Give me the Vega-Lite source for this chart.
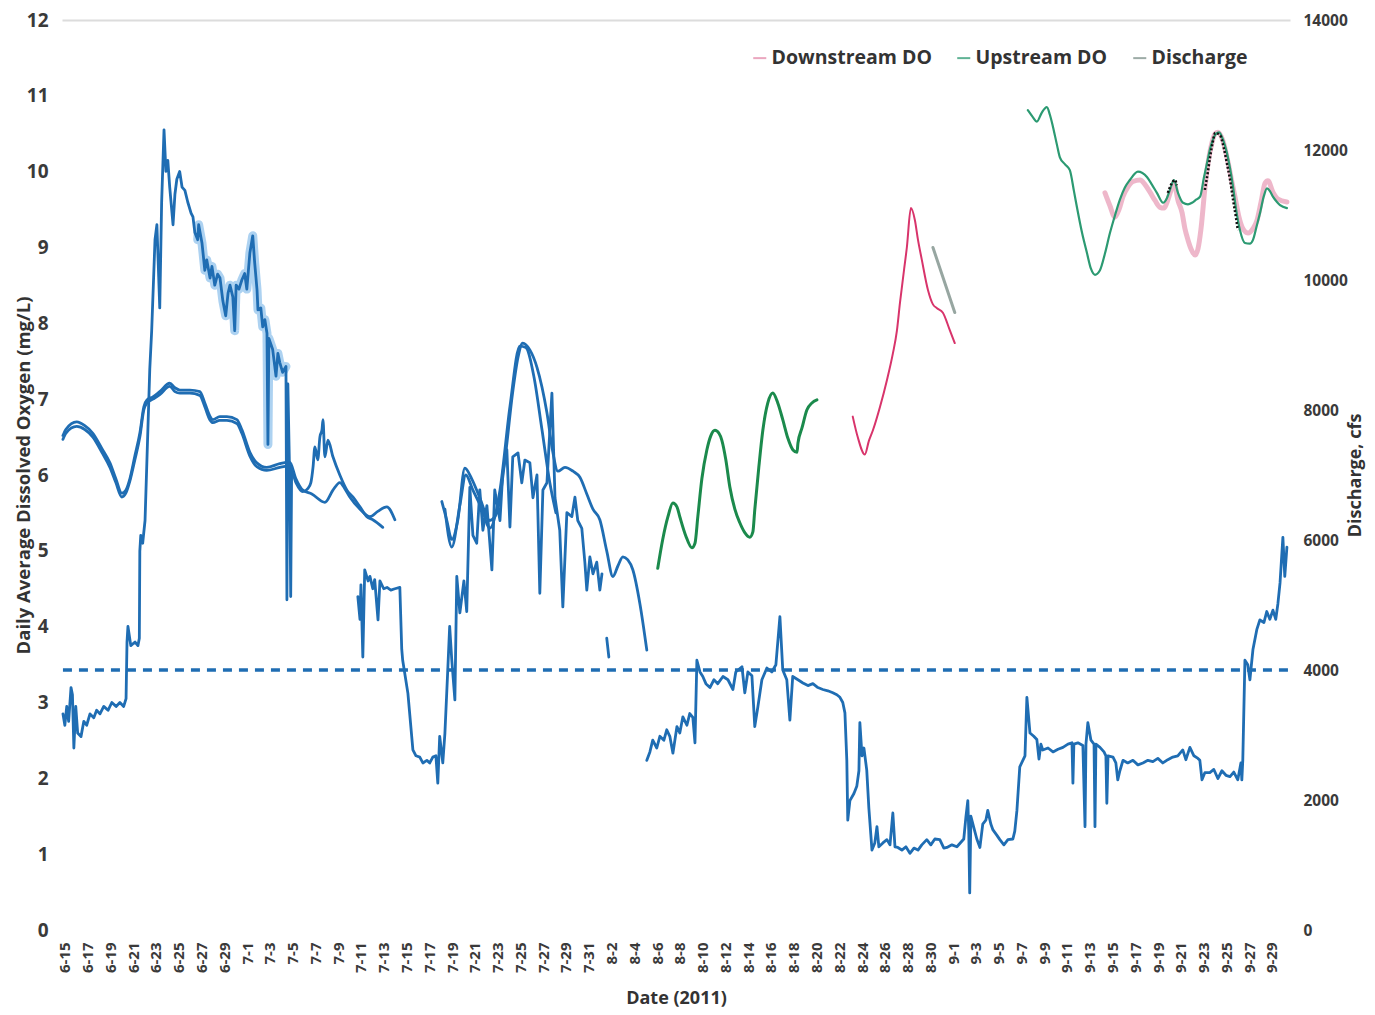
{
  "$schema": "https://vega.github.io/schema/vega-lite/v6.json",
  "width": 1228,
  "height": 910,
  "autosize": "none",
  "padding": {"left": 62, "top": 20, "right": 85, "bottom": 85},
  "background": "white",
  "config": {
    "view": {"stroke": null},
    "font": "Open Sans",
    "line": {"strokeJoin": "round", "strokeCap": "round"}
  },
  "datasets": {
    "flow": [
      {"date":"2011-06-14T20:00","series":"Discharge","run":1,"cfs":3325},{"date":"2011-06-15T00:00","series":"Discharge","run":1,"cfs":3150},{"date":"2011-06-15T04:00","series":"Discharge","run":1,"cfs":3440},{"date":"2011-06-15T08:00","series":"Discharge","run":1,"cfs":3210},{"date":"2011-06-15T13:00","series":"Discharge","run":1,"cfs":3730},{"date":"2011-06-15T16:00","series":"Discharge","run":1,"cfs":3620},{"date":"2011-06-15T19:00","series":"Discharge","run":1,"cfs":2800},{"date":"2011-06-15T23:00","series":"Discharge","run":1,"cfs":3440},{"date":"2011-06-16T03:00","series":"Discharge","run":1,"cfs":3030},{"date":"2011-06-16T10:00","series":"Discharge","run":1,"cfs":2975},{"date":"2011-06-16T16:00","series":"Discharge","run":1,"cfs":3210},{"date":"2011-06-16T22:00","series":"Discharge","run":1,"cfs":3150},{"date":"2011-06-17T05:00","series":"Discharge","run":1,"cfs":3325},{"date":"2011-06-17T13:00","series":"Discharge","run":1,"cfs":3265},{"date":"2011-06-17T19:00","series":"Discharge","run":1,"cfs":3380},{"date":"2011-06-18T02:00","series":"Discharge","run":1,"cfs":3325},{"date":"2011-06-18T10:00","series":"Discharge","run":1,"cfs":3440},{"date":"2011-06-18T19:00","series":"Discharge","run":1,"cfs":3380},{"date":"2011-06-19T03:00","series":"Discharge","run":1,"cfs":3500},{"date":"2011-06-19T12:00","series":"Discharge","run":1,"cfs":3440},{"date":"2011-06-19T20:00","series":"Discharge","run":1,"cfs":3500},{"date":"2011-06-20T04:00","series":"Discharge","run":1,"cfs":3440},{"date":"2011-06-20T09:00","series":"Discharge","run":1,"cfs":3560},{"date":"2011-06-20T11:00","series":"Discharge","run":1,"cfs":4430},{"date":"2011-06-20T13:00","series":"Discharge","run":1,"cfs":4670},{"date":"2011-06-20T19:00","series":"Discharge","run":1,"cfs":4375},{"date":"2011-06-21T04:00","series":"Discharge","run":1,"cfs":4430},{"date":"2011-06-21T10:00","series":"Discharge","run":1,"cfs":4375},{"date":"2011-06-21T13:00","series":"Discharge","run":1,"cfs":4490},{"date":"2011-06-21T14:00","series":"Discharge","run":1,"cfs":5830},{"date":"2011-06-21T16:00","series":"Discharge","run":1,"cfs":6070},{"date":"2011-06-21T20:00","series":"Discharge","run":1,"cfs":5950},{"date":"2011-06-22T01:00","series":"Discharge","run":1,"cfs":6300},{"date":"2011-06-22T05:00","series":"Discharge","run":1,"cfs":7230},{"date":"2011-06-22T11:00","series":"Discharge","run":1,"cfs":8630},{"date":"2011-06-22T15:00","series":"Discharge","run":1,"cfs":9220},{"date":"2011-06-22T22:00","series":"Discharge","run":1,"cfs":10620},{"date":"2011-06-23T02:00","series":"Discharge","run":1,"cfs":10850},{"date":"2011-06-23T08:00","series":"Discharge","run":1,"cfs":9570},{"date":"2011-06-23T12:00","series":"Discharge","run":1,"cfs":11200},{"date":"2011-06-23T17:00","series":"Discharge","run":1,"cfs":12310},{"date":"2011-06-23T21:00","series":"Discharge","run":1,"cfs":11670},{"date":"2011-06-24T01:00","series":"Discharge","run":1,"cfs":11840},{"date":"2011-06-24T05:00","series":"Discharge","run":1,"cfs":11430},{"date":"2011-06-24T12:00","series":"Discharge","run":1,"cfs":10850},{"date":"2011-06-24T16:00","series":"Discharge","run":1,"cfs":11320},{"date":"2011-06-24T20:00","series":"Discharge","run":1,"cfs":11550},{"date":"2011-06-25T02:00","series":"Discharge","run":1,"cfs":11670},{"date":"2011-06-25T07:00","series":"Discharge","run":1,"cfs":11430},{"date":"2011-06-25T13:00","series":"Discharge","run":1,"cfs":11380},{"date":"2011-06-25T19:00","series":"Discharge","run":1,"cfs":11200},{"date":"2011-06-26T02:00","series":"Discharge","run":1,"cfs":11030},{"date":"2011-06-26T06:00","series":"Discharge","run":1,"cfs":10970},{"date":"2011-06-26T10:00","series":"Discharge","run":1,"cfs":10730},{"date":"2011-06-26T16:00","series":"Discharge","run":1,"cfs":10620},{"date":"2011-06-26T18:00","series":"Discharge","run":1,"cfs":10850},{"date":"2011-06-27T01:00","series":"Discharge","run":1,"cfs":10570},{"date":"2011-06-27T07:00","series":"Discharge","run":1,"cfs":10150},{"date":"2011-06-27T11:00","series":"Discharge","run":1,"cfs":10310},{"date":"2011-06-27T18:00","series":"Discharge","run":1,"cfs":10030},{"date":"2011-06-27T22:00","series":"Discharge","run":1,"cfs":10210},{"date":"2011-06-28T04:00","series":"Discharge","run":1,"cfs":9920},{"date":"2011-06-28T10:00","series":"Discharge","run":1,"cfs":10090},{"date":"2011-06-28T15:00","series":"Discharge","run":1,"cfs":10030},{"date":"2011-06-28T21:00","series":"Discharge","run":1,"cfs":9680},{"date":"2011-06-29T03:00","series":"Discharge","run":1,"cfs":9450},{"date":"2011-06-29T08:00","series":"Discharge","run":1,"cfs":9800},{"date":"2011-06-29T12:00","series":"Discharge","run":1,"cfs":9920},{"date":"2011-06-29T18:00","series":"Discharge","run":1,"cfs":9740},{"date":"2011-06-29T22:00","series":"Discharge","run":1,"cfs":9220},{"date":"2011-06-30T01:00","series":"Discharge","run":1,"cfs":9920},{"date":"2011-06-30T07:00","series":"Discharge","run":1,"cfs":9860},{"date":"2011-06-30T13:00","series":"Discharge","run":1,"cfs":10000},{"date":"2011-06-30T19:00","series":"Discharge","run":1,"cfs":10100},{"date":"2011-06-30T23:30","series":"Discharge","run":1,"cfs":9860},{"date":"2011-07-01T06:00","series":"Discharge","run":1,"cfs":10420},{"date":"2011-07-01T12:00","series":"Discharge","run":1,"cfs":10680},{"date":"2011-07-01T16:00","series":"Discharge","run":1,"cfs":10270},{"date":"2011-07-01T21:00","series":"Discharge","run":1,"cfs":9850},{"date":"2011-07-01T23:00","series":"Discharge","run":1,"cfs":9540},{"date":"2011-07-02T05:00","series":"Discharge","run":1,"cfs":9570},{"date":"2011-07-02T09:00","series":"Discharge","run":1,"cfs":9280},{"date":"2011-07-02T13:30","series":"Discharge","run":1,"cfs":9390},{"date":"2011-07-02T18:00","series":"Discharge","run":1,"cfs":9180},{"date":"2011-07-02T20:00","series":"Discharge","run":1,"cfs":7470},{"date":"2011-07-02T22:00","series":"Discharge","run":1,"cfs":9100},{"date":"2011-07-03T06:00","series":"Discharge","run":1,"cfs":8930},{"date":"2011-07-03T13:00","series":"Discharge","run":1,"cfs":8520},{"date":"2011-07-03T17:00","series":"Discharge","run":1,"cfs":8870},{"date":"2011-07-03T21:00","series":"Discharge","run":1,"cfs":8730},{"date":"2011-07-04T03:00","series":"Discharge","run":1,"cfs":8580},{"date":"2011-07-04T10:00","series":"Discharge","run":1,"cfs":8670},{"date":"2011-07-04T12:00","series":"Discharge","run":1,"cfs":5080},{"date":"2011-07-04T14:00","series":"Discharge","run":1,"cfs":8400},{"date":"2011-07-04T18:00","series":"Discharge","run":1,"cfs":6880},{"date":"2011-07-04T20:00","series":"Discharge","run":1,"cfs":5130},{"date":"2011-07-04T22:00","series":"Discharge","run":1,"cfs":7120},
      {"date":"2011-07-10T17:30","series":"Discharge","run":2,"cfs":5130},{"date":"2011-07-10T22:00","series":"Discharge","run":2,"cfs":4780},{"date":"2011-07-11T00:00","series":"Discharge","run":2,"cfs":5310},{"date":"2011-07-11T04:00","series":"Discharge","run":2,"cfs":4200},{"date":"2011-07-11T08:00","series":"Discharge","run":2,"cfs":5540},{"date":"2011-07-11T15:00","series":"Discharge","run":2,"cfs":5370},{"date":"2011-07-11T19:00","series":"Discharge","run":2,"cfs":5440},{"date":"2011-07-12T01:00","series":"Discharge","run":2,"cfs":5250},{"date":"2011-07-12T05:00","series":"Discharge","run":2,"cfs":5390},{"date":"2011-07-12T12:00","series":"Discharge","run":2,"cfs":4770},{"date":"2011-07-12T16:00","series":"Discharge","run":2,"cfs":5370},{"date":"2011-07-13T00:00","series":"Discharge","run":2,"cfs":5250},{"date":"2011-07-13T07:00","series":"Discharge","run":2,"cfs":5270},{"date":"2011-07-13T15:00","series":"Discharge","run":2,"cfs":5230},{"date":"2011-07-13T23:30","series":"Discharge","run":2,"cfs":5250},{"date":"2011-07-14T10:00","series":"Discharge","run":2,"cfs":5270},{"date":"2011-07-14T14:00","series":"Discharge","run":2,"cfs":4320},{"date":"2011-07-14T16:00","series":"Discharge","run":2,"cfs":4150},{"date":"2011-07-15T03:00","series":"Discharge","run":2,"cfs":3640},{"date":"2011-07-15T13:30","series":"Discharge","run":2,"cfs":2770},{"date":"2011-07-15T20:00","series":"Discharge","run":2,"cfs":2680},{"date":"2011-07-16T04:00","series":"Discharge","run":2,"cfs":2660},{"date":"2011-07-16T10:30","series":"Discharge","run":2,"cfs":2570},{"date":"2011-07-16T19:00","series":"Discharge","run":2,"cfs":2610},{"date":"2011-07-17T01:00","series":"Discharge","run":2,"cfs":2570},{"date":"2011-07-17T07:30","series":"Discharge","run":2,"cfs":2660},{"date":"2011-07-17T14:00","series":"Discharge","run":2,"cfs":2680},{"date":"2011-07-17T18:00","series":"Discharge","run":2,"cfs":2260},{"date":"2011-07-17T22:00","series":"Discharge","run":2,"cfs":2980},{"date":"2011-07-18T04:30","series":"Discharge","run":2,"cfs":2570},{"date":"2011-07-18T09:00","series":"Discharge","run":2,"cfs":3030},{"date":"2011-07-18T15:00","series":"Discharge","run":2,"cfs":4000},{"date":"2011-07-18T19:00","series":"Discharge","run":2,"cfs":4670},{"date":"2011-07-18T23:30","series":"Discharge","run":2,"cfs":4150},{"date":"2011-07-19T06:00","series":"Discharge","run":2,"cfs":3540},{"date":"2011-07-19T10:00","series":"Discharge","run":2,"cfs":5440},{"date":"2011-07-19T16:30","series":"Discharge","run":2,"cfs":4880},{"date":"2011-07-20T01:00","series":"Discharge","run":2,"cfs":5370},{"date":"2011-07-20T07:00","series":"Discharge","run":2,"cfs":4900},{"date":"2011-07-20T13:30","series":"Discharge","run":2,"cfs":6810},{"date":"2011-07-20T20:00","series":"Discharge","run":2,"cfs":6070},{"date":"2011-07-21T04:00","series":"Discharge","run":2,"cfs":5950},{"date":"2011-07-21T10:30","series":"Discharge","run":2,"cfs":6770},{"date":"2011-07-21T17:00","series":"Discharge","run":2,"cfs":6150},{"date":"2011-07-22T01:30","series":"Discharge","run":2,"cfs":6530},{"date":"2011-07-22T12:00","series":"Discharge","run":2,"cfs":5540},{"date":"2011-07-22T18:00","series":"Discharge","run":2,"cfs":6770},{"date":"2011-07-23T05:00","series":"Discharge","run":2,"cfs":6300},{"date":"2011-07-23T11:00","series":"Discharge","run":2,"cfs":7040},{"date":"2011-07-23T19:30","series":"Discharge","run":2,"cfs":7390},{"date":"2011-07-24T02:00","series":"Discharge","run":2,"cfs":6200},{"date":"2011-07-24T08:00","series":"Discharge","run":2,"cfs":7280},{"date":"2011-07-24T19:00","series":"Discharge","run":2,"cfs":7340},{"date":"2011-07-25T03:00","series":"Discharge","run":2,"cfs":6880},{"date":"2011-07-25T09:30","series":"Discharge","run":2,"cfs":7230},{"date":"2011-07-25T20:00","series":"Discharge","run":2,"cfs":7190},{"date":"2011-07-26T02:30","series":"Discharge","run":2,"cfs":6650},{"date":"2011-07-26T11:00","series":"Discharge","run":2,"cfs":7000},{"date":"2011-07-26T17:00","series":"Discharge","run":2,"cfs":5180},{"date":"2011-07-26T23:30","series":"Discharge","run":2,"cfs":6770},{"date":"2011-07-27T08:00","series":"Discharge","run":2,"cfs":6880},{"date":"2011-07-27T18:30","series":"Discharge","run":2,"cfs":8260},{"date":"2011-07-28T01:00","series":"Discharge","run":2,"cfs":6650},{"date":"2011-07-28T11:00","series":"Discharge","run":2,"cfs":6150},{"date":"2011-07-28T17:30","series":"Discharge","run":2,"cfs":4970},{"date":"2011-07-29T02:00","series":"Discharge","run":2,"cfs":6420},{"date":"2011-07-29T12:30","series":"Discharge","run":2,"cfs":6360},{"date":"2011-07-29T19:00","series":"Discharge","run":2,"cfs":6660},{"date":"2011-07-30T01:00","series":"Discharge","run":2,"cfs":6300},{"date":"2011-07-30T09:30","series":"Discharge","run":2,"cfs":6180},{"date":"2011-07-30T16:00","series":"Discharge","run":2,"cfs":5650},{"date":"2011-07-30T20:00","series":"Discharge","run":2,"cfs":5230},{"date":"2011-07-31T02:30","series":"Discharge","run":2,"cfs":5740},{"date":"2011-07-31T09:00","series":"Discharge","run":2,"cfs":5480},{"date":"2011-07-31T17:00","series":"Discharge","run":2,"cfs":5660},{"date":"2011-07-31T23:30","series":"Discharge","run":2,"cfs":5230},{"date":"2011-08-01T04:00","series":"Discharge","run":2,"cfs":5480},
      {"date":"2011-08-01T14:00","series":"Discharge","run":3,"cfs":4490},{"date":"2011-08-01T18:30","series":"Discharge","run":3,"cfs":4200},
      {"date":"2011-08-05T02:30","series":"Discharge","run":4,"cfs":2610},{"date":"2011-08-05T09:00","series":"Discharge","run":4,"cfs":2740},{"date":"2011-08-05T15:00","series":"Discharge","run":4,"cfs":2920},{"date":"2011-08-05T23:30","series":"Discharge","run":4,"cfs":2800},{"date":"2011-08-06T06:00","series":"Discharge","run":4,"cfs":2980},{"date":"2011-08-06T14:30","series":"Discharge","run":4,"cfs":2920},{"date":"2011-08-06T20:30","series":"Discharge","run":4,"cfs":3080},{"date":"2011-08-07T03:00","series":"Discharge","run":4,"cfs":2980},{"date":"2011-08-07T09:30","series":"Discharge","run":4,"cfs":2720},{"date":"2011-08-07T18:00","series":"Discharge","run":4,"cfs":3130},{"date":"2011-08-08T00:00","series":"Discharge","run":4,"cfs":3030},{"date":"2011-08-08T06:30","series":"Discharge","run":4,"cfs":3280},{"date":"2011-08-08T15:00","series":"Discharge","run":4,"cfs":3150},{"date":"2011-08-08T21:00","series":"Discharge","run":4,"cfs":3330},{"date":"2011-08-09T03:30","series":"Discharge","run":4,"cfs":3270},{"date":"2011-08-09T08:00","series":"Discharge","run":4,"cfs":2880},{"date":"2011-08-09T12:00","series":"Discharge","run":4,"cfs":4150},{"date":"2011-08-09T18:30","series":"Discharge","run":4,"cfs":3970},{"date":"2011-08-10T00:30","series":"Discharge","run":4,"cfs":3900},{"date":"2011-08-10T07:00","series":"Discharge","run":4,"cfs":3790},{"date":"2011-08-10T15:30","series":"Discharge","run":4,"cfs":3730},{"date":"2011-08-11T00:00","series":"Discharge","run":4,"cfs":3850},{"date":"2011-08-11T08:00","series":"Discharge","run":4,"cfs":3790},{"date":"2011-08-11T19:00","series":"Discharge","run":4,"cfs":3900},{"date":"2011-08-12T05:30","series":"Discharge","run":4,"cfs":3850},{"date":"2011-08-12T16:00","series":"Discharge","run":4,"cfs":3700},{"date":"2011-08-12T22:00","series":"Discharge","run":4,"cfs":3970},{"date":"2011-08-13T11:00","series":"Discharge","run":4,"cfs":4050},{"date":"2011-08-13T17:00","series":"Discharge","run":4,"cfs":3650},{"date":"2011-08-13T23:30","series":"Discharge","run":4,"cfs":3970},{"date":"2011-08-14T08:00","series":"Discharge","run":4,"cfs":3910},{"date":"2011-08-14T14:00","series":"Discharge","run":4,"cfs":3130},{"date":"2011-08-14T20:30","series":"Discharge","run":4,"cfs":3430},{"date":"2011-08-15T05:00","series":"Discharge","run":4,"cfs":3850},{"date":"2011-08-15T15:30","series":"Discharge","run":4,"cfs":4030},{"date":"2011-08-16T02:00","series":"Discharge","run":4,"cfs":3970},{"date":"2011-08-16T10:30","series":"Discharge","run":4,"cfs":4080},{"date":"2011-08-16T19:00","series":"Discharge","run":4,"cfs":4820},{"date":"2011-08-17T01:00","series":"Discharge","run":4,"cfs":4000},{"date":"2011-08-17T09:30","series":"Discharge","run":4,"cfs":3850},{"date":"2011-08-17T16:00","series":"Discharge","run":4,"cfs":3230},{"date":"2011-08-17T22:00","series":"Discharge","run":4,"cfs":3900},{"date":"2011-08-18T09:00","series":"Discharge","run":4,"cfs":3850},{"date":"2011-08-18T19:30","series":"Discharge","run":4,"cfs":3800},{"date":"2011-08-19T06:00","series":"Discharge","run":4,"cfs":3760},{"date":"2011-08-19T16:30","series":"Discharge","run":4,"cfs":3790},{"date":"2011-08-20T03:00","series":"Discharge","run":4,"cfs":3730},{"date":"2011-08-20T13:30","series":"Discharge","run":4,"cfs":3700},{"date":"2011-08-21T00:00","series":"Discharge","run":4,"cfs":3680},{"date":"2011-08-21T10:30","series":"Discharge","run":4,"cfs":3650},{"date":"2011-08-21T19:00","series":"Discharge","run":4,"cfs":3620},{"date":"2011-08-22T01:30","series":"Discharge","run":4,"cfs":3580},{"date":"2011-08-22T07:30","series":"Discharge","run":4,"cfs":3500},{"date":"2011-08-22T12:00","series":"Discharge","run":4,"cfs":3340},{"date":"2011-08-22T16:00","series":"Discharge","run":4,"cfs":2610},{"date":"2011-08-22T18:00","series":"Discharge","run":4,"cfs":1690},{"date":"2011-08-22T22:30","series":"Discharge","run":4,"cfs":1990},{"date":"2011-08-23T07:00","series":"Discharge","run":4,"cfs":2100},{"date":"2011-08-23T13:00","series":"Discharge","run":4,"cfs":2210},{"date":"2011-08-23T17:30","series":"Discharge","run":4,"cfs":2450},{"date":"2011-08-23T19:30","series":"Discharge","run":4,"cfs":3190},{"date":"2011-08-24T00:00","series":"Discharge","run":4,"cfs":2680},{"date":"2011-08-24T04:00","series":"Discharge","run":4,"cfs":2800},{"date":"2011-08-24T10:00","series":"Discharge","run":4,"cfs":2460},{"date":"2011-08-24T14:30","series":"Discharge","run":4,"cfs":1870},{"date":"2011-08-24T21:00","series":"Discharge","run":4,"cfs":1230},{"date":"2011-08-25T03:00","series":"Discharge","run":4,"cfs":1340},{"date":"2011-08-25T07:30","series":"Discharge","run":4,"cfs":1590},{"date":"2011-08-25T11:30","series":"Discharge","run":4,"cfs":1280},{"date":"2011-08-25T20:00","series":"Discharge","run":4,"cfs":1340},{"date":"2011-08-26T04:30","series":"Discharge","run":4,"cfs":1390},{"date":"2011-08-26T11:00","series":"Discharge","run":4,"cfs":1310},{"date":"2011-08-26T17:00","series":"Discharge","run":4,"cfs":1800},{"date":"2011-08-26T21:30","series":"Discharge","run":4,"cfs":1280},{"date":"2011-08-27T03:30","series":"Discharge","run":4,"cfs":1270},{"date":"2011-08-27T12:00","series":"Discharge","run":4,"cfs":1230},{"date":"2011-08-27T20:30","series":"Discharge","run":4,"cfs":1280},{"date":"2011-08-28T05:00","series":"Discharge","run":4,"cfs":1180},{"date":"2011-08-28T13:30","series":"Discharge","run":4,"cfs":1260},{"date":"2011-08-28T22:00","series":"Discharge","run":4,"cfs":1230},{"date":"2011-08-29T06:00","series":"Discharge","run":4,"cfs":1310},{"date":"2011-08-29T16:30","series":"Discharge","run":4,"cfs":1390},{"date":"2011-08-30T01:00","series":"Discharge","run":4,"cfs":1310},{"date":"2011-08-30T09:30","series":"Discharge","run":4,"cfs":1400},{"date":"2011-08-30T20:00","series":"Discharge","run":4,"cfs":1390},{"date":"2011-08-31T04:30","series":"Discharge","run":4,"cfs":1260},{"date":"2011-08-31T11:00","series":"Discharge","run":4,"cfs":1270},{"date":"2011-08-31T21:30","series":"Discharge","run":4,"cfs":1310},{"date":"2011-09-01T08:00","series":"Discharge","run":4,"cfs":1280},{"date":"2011-09-01T16:30","series":"Discharge","run":4,"cfs":1350},{"date":"2011-09-01T22:30","series":"Discharge","run":4,"cfs":1400},{"date":"2011-09-02T03:00","series":"Discharge","run":4,"cfs":1740},{"date":"2011-09-02T07:00","series":"Discharge","run":4,"cfs":1990},{"date":"2011-09-02T09:00","series":"Discharge","run":4,"cfs":1520},{"date":"2011-09-02T11:00","series":"Discharge","run":4,"cfs":570},{"date":"2011-09-02T13:30","series":"Discharge","run":4,"cfs":1750},{"date":"2011-09-02T19:30","series":"Discharge","run":4,"cfs":1580},{"date":"2011-09-03T02:00","series":"Discharge","run":4,"cfs":1400},{"date":"2011-09-03T08:30","series":"Discharge","run":4,"cfs":1270},{"date":"2011-09-03T14:30","series":"Discharge","run":4,"cfs":1630},{"date":"2011-09-03T21:00","series":"Discharge","run":4,"cfs":1690},{"date":"2011-09-04T01:00","series":"Discharge","run":4,"cfs":1840},{"date":"2011-09-04T07:30","series":"Discharge","run":4,"cfs":1630},{"date":"2011-09-04T12:00","series":"Discharge","run":4,"cfs":1540},{"date":"2011-09-04T20:00","series":"Discharge","run":4,"cfs":1460},{"date":"2011-09-05T02:30","series":"Discharge","run":4,"cfs":1390},{"date":"2011-09-05T11:00","series":"Discharge","run":4,"cfs":1310},{"date":"2011-09-05T19:30","series":"Discharge","run":4,"cfs":1390},{"date":"2011-09-06T06:00","series":"Discharge","run":4,"cfs":1400},{"date":"2011-09-06T10:00","series":"Discharge","run":4,"cfs":1520},{"date":"2011-09-06T14:30","series":"Discharge","run":4,"cfs":1840},{"date":"2011-09-06T20:30","series":"Discharge","run":4,"cfs":2510},{"date":"2011-09-07T03:00","series":"Discharge","run":4,"cfs":2610},{"date":"2011-09-07T07:30","series":"Discharge","run":4,"cfs":2680},{"date":"2011-09-07T11:30","series":"Discharge","run":4,"cfs":3580},{"date":"2011-09-07T18:00","series":"Discharge","run":4,"cfs":3030},{"date":"2011-09-08T02:00","series":"Discharge","run":4,"cfs":2980},{"date":"2011-09-08T08:30","series":"Discharge","run":4,"cfs":2930},{"date":"2011-09-08T13:00","series":"Discharge","run":4,"cfs":2630},{"date":"2011-09-08T17:00","series":"Discharge","run":4,"cfs":2860},{"date":"2011-09-08T21:00","series":"Discharge","run":4,"cfs":2770},{"date":"2011-09-09T08:00","series":"Discharge","run":4,"cfs":2800},{"date":"2011-09-09T18:30","series":"Discharge","run":4,"cfs":2740},{"date":"2011-09-10T05:00","series":"Discharge","run":4,"cfs":2780},{"date":"2011-09-10T15:30","series":"Discharge","run":4,"cfs":2810},{"date":"2011-09-11T02:00","series":"Discharge","run":4,"cfs":2860},{"date":"2011-09-11T10:30","series":"Discharge","run":4,"cfs":2880},{"date":"2011-09-11T12:30","series":"Discharge","run":4,"cfs":2260},{"date":"2011-09-11T14:30","series":"Discharge","run":4,"cfs":2860},{"date":"2011-09-11T23:00","series":"Discharge","run":4,"cfs":2880},{"date":"2011-09-12T09:30","series":"Discharge","run":4,"cfs":2840},{"date":"2011-09-12T14:00","series":"Discharge","run":4,"cfs":1590},{"date":"2011-09-12T16:00","series":"Discharge","run":4,"cfs":2860},{"date":"2011-09-12T20:00","series":"Discharge","run":4,"cfs":3190},{"date":"2011-09-13T02:30","series":"Discharge","run":4,"cfs":2920},{"date":"2011-09-13T09:00","series":"Discharge","run":4,"cfs":2860},{"date":"2011-09-13T11:00","series":"Discharge","run":4,"cfs":1590},{"date":"2011-09-13T13:00","series":"Discharge","run":4,"cfs":2860},{"date":"2011-09-13T21:30","series":"Discharge","run":4,"cfs":2810},{"date":"2011-09-14T06:00","series":"Discharge","run":4,"cfs":2740},{"date":"2011-09-14T10:00","series":"Discharge","run":4,"cfs":2680},{"date":"2011-09-14T12:00","series":"Discharge","run":4,"cfs":1950},{"date":"2011-09-14T14:30","series":"Discharge","run":4,"cfs":2680},{"date":"2011-09-15T01:00","series":"Discharge","run":4,"cfs":2660},{"date":"2011-09-15T07:00","series":"Discharge","run":4,"cfs":2570},{"date":"2011-09-15T11:00","series":"Discharge","run":4,"cfs":2310},{"date":"2011-09-15T15:30","series":"Discharge","run":4,"cfs":2450},{"date":"2011-09-15T22:00","series":"Discharge","run":4,"cfs":2610},{"date":"2011-09-16T08:00","series":"Discharge","run":4,"cfs":2570},{"date":"2011-09-16T19:00","series":"Discharge","run":4,"cfs":2610},{"date":"2011-09-17T05:30","series":"Discharge","run":4,"cfs":2540},{"date":"2011-09-17T16:00","series":"Discharge","run":4,"cfs":2570},{"date":"2011-09-18T02:30","series":"Discharge","run":4,"cfs":2610},{"date":"2011-09-18T13:00","series":"Discharge","run":4,"cfs":2590},{"date":"2011-09-18T23:30","series":"Discharge","run":4,"cfs":2640},{"date":"2011-09-19T10:00","series":"Discharge","run":4,"cfs":2570},{"date":"2011-09-19T20:30","series":"Discharge","run":4,"cfs":2620},{"date":"2011-09-20T07:00","series":"Discharge","run":4,"cfs":2660},{"date":"2011-09-20T17:30","series":"Discharge","run":4,"cfs":2680},{"date":"2011-09-21T04:00","series":"Discharge","run":4,"cfs":2770},{"date":"2011-09-21T10:30","series":"Discharge","run":4,"cfs":2620},{"date":"2011-09-21T19:00","series":"Discharge","run":4,"cfs":2810},{"date":"2011-09-22T03:30","series":"Discharge","run":4,"cfs":2680},{"date":"2011-09-22T12:00","series":"Discharge","run":4,"cfs":2640},{"date":"2011-09-22T16:00","series":"Discharge","run":4,"cfs":2610},{"date":"2011-09-22T20:30","series":"Discharge","run":4,"cfs":2310},{"date":"2011-09-23T02:30","series":"Discharge","run":4,"cfs":2420},{"date":"2011-09-23T13:00","series":"Discharge","run":4,"cfs":2420},{"date":"2011-09-23T21:30","series":"Discharge","run":4,"cfs":2470},{"date":"2011-09-24T06:00","series":"Discharge","run":4,"cfs":2330},{"date":"2011-09-24T14:30","series":"Discharge","run":4,"cfs":2450},{"date":"2011-09-24T23:00","series":"Discharge","run":4,"cfs":2380},{"date":"2011-09-25T07:30","series":"Discharge","run":4,"cfs":2360},{"date":"2011-09-25T15:30","series":"Discharge","run":4,"cfs":2430},{"date":"2011-09-26T00:00","series":"Discharge","run":4,"cfs":2310},{"date":"2011-09-26T06:30","series":"Discharge","run":4,"cfs":2570},{"date":"2011-09-26T08:30","series":"Discharge","run":4,"cfs":2310},{"date":"2011-09-26T10:30","series":"Discharge","run":4,"cfs":2610},{"date":"2011-09-26T15:00","series":"Discharge","run":4,"cfs":4150},{"date":"2011-09-26T21:00","series":"Discharge","run":4,"cfs":4080},{"date":"2011-09-27T01:30","series":"Discharge","run":4,"cfs":3850},{"date":"2011-09-27T08:00","series":"Discharge","run":4,"cfs":4320},{"date":"2011-09-27T16:00","series":"Discharge","run":4,"cfs":4620},{"date":"2011-09-27T22:30","series":"Discharge","run":4,"cfs":4770},{"date":"2011-09-28T07:00","series":"Discharge","run":4,"cfs":4730},{"date":"2011-09-28T13:00","series":"Discharge","run":4,"cfs":4900},{"date":"2011-09-28T19:30","series":"Discharge","run":4,"cfs":4780},{"date":"2011-09-29T02:00","series":"Discharge","run":4,"cfs":4920},{"date":"2011-09-29T08:00","series":"Discharge","run":4,"cfs":4780},{"date":"2011-09-29T12:30","series":"Discharge","run":4,"cfs":5020},{"date":"2011-09-29T17:00","series":"Discharge","run":4,"cfs":5340},{"date":"2011-09-29T23:00","series":"Discharge","run":4,"cfs":6040},{"date":"2011-09-30T03:00","series":"Discharge","run":4,"cfs":5440},{"date":"2011-09-30T07:30","series":"Discharge","run":4,"cfs":5890},
      {"date":"2011-08-30T05:30","series":"Discharge","run":5,"cfs":10500},{"date":"2011-08-31T04:30","series":"Discharge","run":5,"cfs":10000},{"date":"2011-09-01T03:30","series":"Discharge","run":5,"cfs":9500}
    ],
    "threshold": [
      {"date":"2011-06-14T20:00","cfs":4000},{"date":"2011-09-30T14:00","cfs":4000}
    ],
    "do": [
      {"date":"2011-06-14T20:00","series":"Upstream DO","run":1,"do":6.52},{"date":"2011-06-15T02:00","series":"Upstream DO","run":1,"do":6.6},{"date":"2011-06-16T01:00","series":"Upstream DO","run":1,"do":6.7},{"date":"2011-06-16T18:00","series":"Upstream DO","run":1,"do":6.65},{"date":"2011-06-17T11:00","series":"Upstream DO","run":1,"do":6.55},{"date":"2011-06-18T06:00","series":"Upstream DO","run":1,"do":6.35},{"date":"2011-06-18T23:00","series":"Upstream DO","run":1,"do":6.16},{"date":"2011-06-19T11:30","series":"Upstream DO","run":1,"do":5.95},{"date":"2011-06-20T00:00","series":"Upstream DO","run":1,"do":5.76},{"date":"2011-06-20T08:30","series":"Upstream DO","run":1,"do":5.8},{"date":"2011-06-20T17:00","series":"Upstream DO","run":1,"do":5.95},{"date":"2011-06-21T03:30","series":"Upstream DO","run":1,"do":6.25},{"date":"2011-06-21T14:00","series":"Upstream DO","run":1,"do":6.55},{"date":"2011-06-21T22:30","series":"Upstream DO","run":1,"do":6.9},{"date":"2011-06-22T05:00","series":"Upstream DO","run":1,"do":6.99},{"date":"2011-06-22T17:30","series":"Upstream DO","run":1,"do":7.03},{"date":"2011-06-23T08:00","series":"Upstream DO","run":1,"do":7.1},{"date":"2011-06-24T05:00","series":"Upstream DO","run":1,"do":7.21},{"date":"2011-06-24T16:00","series":"Upstream DO","run":1,"do":7.15},{"date":"2011-06-25T02:30","series":"Upstream DO","run":1,"do":7.12},{"date":"2011-06-25T23:30","series":"Upstream DO","run":1,"do":7.12},{"date":"2011-06-26T20:30","series":"Upstream DO","run":1,"do":7.1},{"date":"2011-06-27T07:00","series":"Upstream DO","run":1,"do":6.95},{"date":"2011-06-27T17:30","series":"Upstream DO","run":1,"do":6.78},{"date":"2011-06-28T00:00","series":"Upstream DO","run":1,"do":6.73},{"date":"2011-06-28T14:30","series":"Upstream DO","run":1,"do":6.77},{"date":"2011-06-29T05:30","series":"Upstream DO","run":1,"do":6.77},{"date":"2011-06-30T02:30","series":"Upstream DO","run":1,"do":6.73},{"date":"2011-06-30T13:00","series":"Upstream DO","run":1,"do":6.6},{"date":"2011-07-01T06:00","series":"Upstream DO","run":1,"do":6.3},{"date":"2011-07-01T20:30","series":"Upstream DO","run":1,"do":6.16},{"date":"2011-07-02T17:30","series":"Upstream DO","run":1,"do":6.1},{"date":"2011-07-03T21:00","series":"Upstream DO","run":1,"do":6.15},{"date":"2011-07-04T18:00","series":"Upstream DO","run":1,"do":6.17},{"date":"2011-07-05T07:00","series":"Upstream DO","run":1,"do":5.95},{"date":"2011-07-05T21:30","series":"Upstream DO","run":1,"do":5.8},{"date":"2011-07-06T16:30","series":"Upstream DO","run":1,"do":5.75},{"date":"2011-07-07T20:00","series":"Upstream DO","run":1,"do":5.64},{"date":"2011-07-08T13:00","series":"Upstream DO","run":1,"do":5.8},{"date":"2011-07-09T03:30","series":"Upstream DO","run":1,"do":5.9},{"date":"2011-07-09T14:00","series":"Upstream DO","run":1,"do":5.82},{"date":"2011-07-10T00:30","series":"Upstream DO","run":1,"do":5.71},{"date":"2011-07-10T22:00","series":"Upstream DO","run":1,"do":5.55},{"date":"2011-07-11T19:00","series":"Upstream DO","run":1,"do":5.45},{"date":"2011-07-12T11:30","series":"Upstream DO","run":1,"do":5.52},{"date":"2011-07-13T06:30","series":"Upstream DO","run":1,"do":5.58},{"date":"2011-07-13T23:30","series":"Upstream DO","run":1,"do":5.41},
      {"date":"2011-06-14T20:00","series":"Downstream DO","run":1,"do":6.47},{"date":"2011-06-15T02:00","series":"Downstream DO","run":1,"do":6.55},{"date":"2011-06-16T01:00","series":"Downstream DO","run":1,"do":6.64},{"date":"2011-06-16T18:00","series":"Downstream DO","run":1,"do":6.6},{"date":"2011-06-17T11:00","series":"Downstream DO","run":1,"do":6.5},{"date":"2011-06-18T06:00","series":"Downstream DO","run":1,"do":6.3},{"date":"2011-06-18T23:00","series":"Downstream DO","run":1,"do":6.1},{"date":"2011-06-19T11:30","series":"Downstream DO","run":1,"do":5.9},{"date":"2011-06-20T00:00","series":"Downstream DO","run":1,"do":5.71},{"date":"2011-06-20T08:30","series":"Downstream DO","run":1,"do":5.76},{"date":"2011-06-20T17:00","series":"Downstream DO","run":1,"do":5.92},{"date":"2011-06-21T03:30","series":"Downstream DO","run":1,"do":6.2},{"date":"2011-06-21T14:00","series":"Downstream DO","run":1,"do":6.5},{"date":"2011-06-21T22:30","series":"Downstream DO","run":1,"do":6.86},{"date":"2011-06-22T05:00","series":"Downstream DO","run":1,"do":6.95},{"date":"2011-06-22T17:30","series":"Downstream DO","run":1,"do":7.0},{"date":"2011-06-23T08:00","series":"Downstream DO","run":1,"do":7.06},{"date":"2011-06-24T05:00","series":"Downstream DO","run":1,"do":7.17},{"date":"2011-06-24T16:00","series":"Downstream DO","run":1,"do":7.1},{"date":"2011-06-25T02:30","series":"Downstream DO","run":1,"do":7.08},{"date":"2011-06-25T23:30","series":"Downstream DO","run":1,"do":7.08},{"date":"2011-06-26T20:30","series":"Downstream DO","run":1,"do":7.05},{"date":"2011-06-27T07:00","series":"Downstream DO","run":1,"do":6.9},{"date":"2011-06-27T17:30","series":"Downstream DO","run":1,"do":6.73},{"date":"2011-06-28T00:00","series":"Downstream DO","run":1,"do":6.69},{"date":"2011-06-28T14:30","series":"Downstream DO","run":1,"do":6.72},{"date":"2011-06-29T05:30","series":"Downstream DO","run":1,"do":6.72},{"date":"2011-06-30T02:30","series":"Downstream DO","run":1,"do":6.68},{"date":"2011-06-30T13:00","series":"Downstream DO","run":1,"do":6.55},{"date":"2011-07-01T06:00","series":"Downstream DO","run":1,"do":6.25},{"date":"2011-07-01T20:30","series":"Downstream DO","run":1,"do":6.11},{"date":"2011-07-02T17:30","series":"Downstream DO","run":1,"do":6.06},{"date":"2011-07-03T21:00","series":"Downstream DO","run":1,"do":6.1},{"date":"2011-07-04T18:00","series":"Downstream DO","run":1,"do":6.12},{"date":"2011-07-05T07:00","series":"Downstream DO","run":1,"do":5.9},{"date":"2011-07-05T21:30","series":"Downstream DO","run":1,"do":5.78},{"date":"2011-07-06T08:00","series":"Downstream DO","run":1,"do":5.82},{"date":"2011-07-06T14:30","series":"Downstream DO","run":1,"do":5.9},{"date":"2011-07-06T19:00","series":"Downstream DO","run":1,"do":6.1},{"date":"2011-07-06T23:00","series":"Downstream DO","run":1,"do":6.37},{"date":"2011-07-07T05:00","series":"Downstream DO","run":1,"do":6.2},{"date":"2011-07-07T09:30","series":"Downstream DO","run":1,"do":6.5},{"date":"2011-07-07T14:00","series":"Downstream DO","run":1,"do":6.6},{"date":"2011-07-07T16:00","series":"Downstream DO","run":1,"do":6.73},{"date":"2011-07-07T20:00","series":"Downstream DO","run":1,"do":6.24},{"date":"2011-07-08T02:30","series":"Downstream DO","run":1,"do":6.46},{"date":"2011-07-08T13:00","series":"Downstream DO","run":1,"do":6.24},{"date":"2011-07-09T03:30","series":"Downstream DO","run":1,"do":6.0},{"date":"2011-07-09T18:30","series":"Downstream DO","run":1,"do":5.8},{"date":"2011-07-10T07:00","series":"Downstream DO","run":1,"do":5.71},{"date":"2011-07-10T22:00","series":"Downstream DO","run":1,"do":5.58},{"date":"2011-07-11T12:30","series":"Downstream DO","run":1,"do":5.45},{"date":"2011-07-12T01:00","series":"Downstream DO","run":1,"do":5.41},{"date":"2011-07-12T22:00","series":"Downstream DO","run":1,"do":5.31},
      {"date":"2011-07-18T02:30","series":"Upstream DO","run":2,"do":5.65},{"date":"2011-07-18T13:00","series":"Upstream DO","run":2,"do":5.4},{"date":"2011-07-18T23:30","series":"Upstream DO","run":2,"do":5.15},{"date":"2011-07-19T12:00","series":"Upstream DO","run":2,"do":5.4},{"date":"2011-07-20T03:00","series":"Upstream DO","run":2,"do":6.09},{"date":"2011-07-20T17:30","series":"Upstream DO","run":2,"do":5.95},{"date":"2011-07-21T10:30","series":"Upstream DO","run":2,"do":5.7},{"date":"2011-07-22T07:30","series":"Upstream DO","run":2,"do":5.4},{"date":"2011-07-22T22:30","series":"Upstream DO","run":2,"do":5.5},{"date":"2011-07-23T15:30","series":"Upstream DO","run":2,"do":6.2},{"date":"2011-07-24T08:00","series":"Upstream DO","run":2,"do":7.1},{"date":"2011-07-24T19:00","series":"Upstream DO","run":2,"do":7.55},{"date":"2011-07-25T05:00","series":"Upstream DO","run":2,"do":7.74},{"date":"2011-07-25T20:00","series":"Upstream DO","run":2,"do":7.65},{"date":"2011-07-26T11:00","series":"Upstream DO","run":2,"do":7.42},{"date":"2011-07-27T08:00","series":"Upstream DO","run":2,"do":6.82},{"date":"2011-07-27T20:30","series":"Upstream DO","run":2,"do":6.3},{"date":"2011-07-28T07:00","series":"Upstream DO","run":2,"do":6.05},{"date":"2011-07-28T22:00","series":"Upstream DO","run":2,"do":6.1},{"date":"2011-07-29T15:00","series":"Upstream DO","run":2,"do":6.05},{"date":"2011-07-30T05:30","series":"Upstream DO","run":2,"do":5.97},{"date":"2011-07-30T20:00","series":"Upstream DO","run":2,"do":5.75},{"date":"2011-07-31T09:00","series":"Upstream DO","run":2,"do":5.55},{"date":"2011-07-31T23:30","series":"Upstream DO","run":2,"do":5.41},{"date":"2011-08-01T14:00","series":"Upstream DO","run":2,"do":5.0},{"date":"2011-08-02T03:00","series":"Upstream DO","run":2,"do":4.66},{"date":"2011-08-02T13:30","series":"Upstream DO","run":2,"do":4.8},{"date":"2011-08-03T00:00","series":"Upstream DO","run":2,"do":4.92},{"date":"2011-08-03T10:30","series":"Upstream DO","run":2,"do":4.88},{"date":"2011-08-03T21:00","series":"Upstream DO","run":2,"do":4.75},{"date":"2011-08-04T12:00","series":"Upstream DO","run":2,"do":4.3},{"date":"2011-08-05T02:30","series":"Upstream DO","run":2,"do":3.69},
      {"date":"2011-07-18T09:00","series":"Downstream DO","run":2,"do":5.55},{"date":"2011-07-18T23:30","series":"Downstream DO","run":2,"do":5.05},{"date":"2011-07-19T16:30","series":"Downstream DO","run":2,"do":5.6},{"date":"2011-07-20T05:00","series":"Downstream DO","run":2,"do":6.0},{"date":"2011-07-20T20:00","series":"Downstream DO","run":2,"do":5.8},{"date":"2011-07-21T15:00","series":"Downstream DO","run":2,"do":5.55},{"date":"2011-07-22T07:30","series":"Downstream DO","run":2,"do":5.3},{"date":"2011-07-23T05:00","series":"Downstream DO","run":2,"do":5.8},{"date":"2011-07-24T02:00","series":"Downstream DO","run":2,"do":6.9},{"date":"2011-07-24T23:00","series":"Downstream DO","run":2,"do":7.7},{"date":"2011-07-25T11:30","series":"Downstream DO","run":2,"do":7.68},{"date":"2011-07-26T04:30","series":"Downstream DO","run":2,"do":7.3},{"date":"2011-07-26T21:30","series":"Downstream DO","run":2,"do":6.6},{"date":"2011-07-27T14:00","series":"Downstream DO","run":2,"do":5.9},{"date":"2011-07-28T03:00","series":"Downstream DO","run":2,"do":5.5},
      {"date":"2011-08-06T01:30","series":"Upstream DO","run":3,"do":4.77},{"date":"2011-08-06T12:00","series":"Upstream DO","run":3,"do":5.15},{"date":"2011-08-06T23:00","series":"Upstream DO","run":3,"do":5.45},{"date":"2011-08-07T09:30","series":"Upstream DO","run":3,"do":5.63},{"date":"2011-08-07T18:00","series":"Upstream DO","run":3,"do":5.58},{"date":"2011-08-08T00:00","series":"Upstream DO","run":3,"do":5.45},{"date":"2011-08-08T12:30","series":"Upstream DO","run":3,"do":5.2},{"date":"2011-08-09T01:30","series":"Upstream DO","run":3,"do":5.04},{"date":"2011-08-09T08:00","series":"Upstream DO","run":3,"do":5.1},{"date":"2011-08-09T14:00","series":"Upstream DO","run":3,"do":5.45},{"date":"2011-08-09T22:30","series":"Upstream DO","run":3,"do":5.95},{"date":"2011-08-10T09:00","series":"Upstream DO","run":3,"do":6.33},{"date":"2011-08-10T17:30","series":"Upstream DO","run":3,"do":6.52},{"date":"2011-08-11T02:00","series":"Upstream DO","run":3,"do":6.59},{"date":"2011-08-11T10:30","series":"Upstream DO","run":3,"do":6.55},{"date":"2011-08-11T16:30","series":"Upstream DO","run":3,"do":6.46},{"date":"2011-08-12T01:00","series":"Upstream DO","run":3,"do":6.2},{"date":"2011-08-12T09:30","series":"Upstream DO","run":3,"do":5.84},{"date":"2011-08-12T20:00","series":"Upstream DO","run":3,"do":5.55},{"date":"2011-08-13T06:30","series":"Upstream DO","run":3,"do":5.37},{"date":"2011-08-13T17:00","series":"Upstream DO","run":3,"do":5.24},{"date":"2011-08-14T03:30","series":"Upstream DO","run":3,"do":5.18},{"date":"2011-08-14T10:00","series":"Upstream DO","run":3,"do":5.25},{"date":"2011-08-14T14:00","series":"Upstream DO","run":3,"do":5.54},{"date":"2011-08-14T22:30","series":"Upstream DO","run":3,"do":6.1},{"date":"2011-08-15T07:00","series":"Upstream DO","run":3,"do":6.59},{"date":"2011-08-15T17:30","series":"Upstream DO","run":3,"do":6.95},{"date":"2011-08-16T04:00","series":"Upstream DO","run":3,"do":7.08},{"date":"2011-08-16T14:30","series":"Upstream DO","run":3,"do":6.95},{"date":"2011-08-17T01:00","series":"Upstream DO","run":3,"do":6.73},{"date":"2011-08-17T12:00","series":"Upstream DO","run":3,"do":6.48},{"date":"2011-08-17T22:30","series":"Upstream DO","run":3,"do":6.33},{"date":"2011-08-18T07:00","series":"Upstream DO","run":3,"do":6.3},{"date":"2011-08-18T09:00","series":"Upstream DO","run":3,"do":6.42},{"date":"2011-08-18T17:30","series":"Upstream DO","run":3,"do":6.62},{"date":"2011-08-19T04:00","series":"Upstream DO","run":3,"do":6.86},{"date":"2011-08-19T14:30","series":"Upstream DO","run":3,"do":6.95},{"date":"2011-08-20T01:00","series":"Upstream DO","run":3,"do":6.99},
      {"date":"2011-08-23T04:30","series":"Downstream DO","run":3,"do":6.77},{"date":"2011-08-23T15:00","series":"Downstream DO","run":3,"do":6.5},{"date":"2011-08-24T06:00","series":"Downstream DO","run":3,"do":6.27},{"date":"2011-08-24T14:30","series":"Downstream DO","run":3,"do":6.45},{"date":"2011-08-24T23:00","series":"Downstream DO","run":3,"do":6.59},{"date":"2011-08-25T14:00","series":"Downstream DO","run":3,"do":6.9},{"date":"2011-08-26T04:30","series":"Downstream DO","run":3,"do":7.25},{"date":"2011-08-26T17:00","series":"Downstream DO","run":3,"do":7.6},{"date":"2011-08-27T01:30","series":"Downstream DO","run":3,"do":7.9},{"date":"2011-08-27T08:00","series":"Downstream DO","run":3,"do":8.27},{"date":"2011-08-27T16:30","series":"Downstream DO","run":3,"do":8.7},{"date":"2011-08-27T22:30","series":"Downstream DO","run":3,"do":9.0},{"date":"2011-08-28T07:00","series":"Downstream DO","run":3,"do":9.52},{"date":"2011-08-28T15:30","series":"Downstream DO","run":3,"do":9.36},{"date":"2011-08-28T22:00","series":"Downstream DO","run":3,"do":9.1},{"date":"2011-08-29T06:00","series":"Downstream DO","run":3,"do":8.84},{"date":"2011-08-29T19:00","series":"Downstream DO","run":3,"do":8.44},{"date":"2011-08-30T05:30","series":"Downstream DO","run":3,"do":8.25},{"date":"2011-08-30T14:00","series":"Downstream DO","run":3,"do":8.2},{"date":"2011-08-31T02:30","series":"Downstream DO","run":3,"do":8.14},{"date":"2011-08-31T17:00","series":"Downstream DO","run":3,"do":7.91},{"date":"2011-09-01T03:30","series":"Downstream DO","run":3,"do":7.74},
      {"date":"2011-09-07T13:30","series":"Upstream DO","run":4,"do":10.81},{"date":"2011-09-08T00:00","series":"Upstream DO","run":4,"do":10.72},{"date":"2011-09-08T08:30","series":"Upstream DO","run":4,"do":10.66},{"date":"2011-09-08T19:00","series":"Upstream DO","run":4,"do":10.78},{"date":"2011-09-09T05:30","series":"Upstream DO","run":4,"do":10.85},{"date":"2011-09-09T12:00","series":"Upstream DO","run":4,"do":10.75},{"date":"2011-09-09T18:30","series":"Upstream DO","run":4,"do":10.59},{"date":"2011-09-10T03:00","series":"Upstream DO","run":4,"do":10.35},{"date":"2011-09-10T09:00","series":"Upstream DO","run":4,"do":10.19},{"date":"2011-09-10T19:30","series":"Upstream DO","run":4,"do":10.1},{"date":"2011-09-11T06:00","series":"Upstream DO","run":4,"do":10.02},{"date":"2011-09-11T14:30","series":"Upstream DO","run":4,"do":9.75},{"date":"2011-09-11T21:00","series":"Upstream DO","run":4,"do":9.53},{"date":"2011-09-12T07:30","series":"Upstream DO","run":4,"do":9.2},{"date":"2011-09-12T18:00","series":"Upstream DO","run":4,"do":8.93},{"date":"2011-09-13T02:30","series":"Upstream DO","run":4,"do":8.72},{"date":"2011-09-13T11:00","series":"Upstream DO","run":4,"do":8.64},{"date":"2011-09-13T21:30","series":"Upstream DO","run":4,"do":8.7},{"date":"2011-09-14T08:00","series":"Upstream DO","run":4,"do":8.92},{"date":"2011-09-14T18:30","series":"Upstream DO","run":4,"do":9.19},{"date":"2011-09-15T05:00","series":"Upstream DO","run":4,"do":9.42},{"date":"2011-09-15T15:30","series":"Upstream DO","run":4,"do":9.63},{"date":"2011-09-16T02:00","series":"Upstream DO","run":4,"do":9.79},{"date":"2011-09-16T12:30","series":"Upstream DO","run":4,"do":9.89},{"date":"2011-09-17T05:30","series":"Upstream DO","run":4,"do":10.0},{"date":"2011-09-18T00:30","series":"Upstream DO","run":4,"do":9.93},{"date":"2011-09-18T11:00","series":"Upstream DO","run":4,"do":9.83},{"date":"2011-09-18T21:30","series":"Upstream DO","run":4,"do":9.72},{"date":"2011-09-19T10:30","series":"Upstream DO","run":4,"do":9.59},{"date":"2011-09-19T18:30","series":"Upstream DO","run":4,"do":9.65},{"date":"2011-09-20T01:00","series":"Upstream DO","run":4,"do":9.76},{"date":"2011-09-20T09:30","series":"Upstream DO","run":4,"do":9.89},{"date":"2011-09-20T18:00","series":"Upstream DO","run":4,"do":9.72},{"date":"2011-09-21T04:30","series":"Upstream DO","run":4,"do":9.59},{"date":"2011-09-21T15:00","series":"Upstream DO","run":4,"do":9.57},{"date":"2011-09-21T23:30","series":"Upstream DO","run":4,"do":9.59},{"date":"2011-09-22T08:00","series":"Upstream DO","run":4,"do":9.63},{"date":"2011-09-22T16:30","series":"Upstream DO","run":4,"do":9.67},{"date":"2011-09-23T00:30","series":"Upstream DO","run":4,"do":9.92},{"date":"2011-09-23T07:00","series":"Upstream DO","run":4,"do":10.11},{"date":"2011-09-23T13:30","series":"Upstream DO","run":4,"do":10.3},{"date":"2011-09-23T19:30","series":"Upstream DO","run":4,"do":10.42},{"date":"2011-09-24T02:00","series":"Upstream DO","run":4,"do":10.5},{"date":"2011-09-24T08:30","series":"Upstream DO","run":4,"do":10.52},{"date":"2011-09-24T17:00","series":"Upstream DO","run":4,"do":10.42},{"date":"2011-09-25T01:00","series":"Upstream DO","run":4,"do":10.25},{"date":"2011-09-25T07:30","series":"Upstream DO","run":4,"do":10.05},{"date":"2011-09-25T14:00","series":"Upstream DO","run":4,"do":9.8},{"date":"2011-09-25T20:00","series":"Upstream DO","run":4,"do":9.52},{"date":"2011-09-26T04:30","series":"Upstream DO","run":4,"do":9.23},{"date":"2011-09-26T15:00","series":"Upstream DO","run":4,"do":9.06},{"date":"2011-09-27T01:30","series":"Upstream DO","run":4,"do":9.05},{"date":"2011-09-27T08:00","series":"Upstream DO","run":4,"do":9.1},{"date":"2011-09-27T16:30","series":"Upstream DO","run":4,"do":9.3},{"date":"2011-09-27T23:00","series":"Upstream DO","run":4,"do":9.46},{"date":"2011-09-28T07:00","series":"Upstream DO","run":4,"do":9.68},{"date":"2011-09-28T13:30","series":"Upstream DO","run":4,"do":9.78},{"date":"2011-09-28T20:00","series":"Upstream DO","run":4,"do":9.74},{"date":"2011-09-29T02:00","series":"Upstream DO","run":4,"do":9.67},{"date":"2011-09-29T10:30","series":"Upstream DO","run":4,"do":9.6},{"date":"2011-09-29T17:00","series":"Upstream DO","run":4,"do":9.56},{"date":"2011-09-30T07:30","series":"Upstream DO","run":4,"do":9.52},
      {"date":"2011-09-14T08:00","series":"Downstream DO","run":4,"do":9.72},{"date":"2011-09-14T18:30","series":"Downstream DO","run":4,"do":9.55},{"date":"2011-09-15T05:00","series":"Downstream DO","run":4,"do":9.4},{"date":"2011-09-15T13:30","series":"Downstream DO","run":4,"do":9.5},{"date":"2011-09-15T22:00","series":"Downstream DO","run":4,"do":9.67},{"date":"2011-09-16T08:30","series":"Downstream DO","run":4,"do":9.8},{"date":"2011-09-16T19:00","series":"Downstream DO","run":4,"do":9.87},{"date":"2011-09-17T10:00","series":"Downstream DO","run":4,"do":9.89},{"date":"2011-09-17T20:30","series":"Downstream DO","run":4,"do":9.83},{"date":"2011-09-18T07:00","series":"Downstream DO","run":4,"do":9.73},{"date":"2011-09-18T17:30","series":"Downstream DO","run":4,"do":9.62},{"date":"2011-09-19T04:00","series":"Downstream DO","run":4,"do":9.53},{"date":"2011-09-19T12:30","series":"Downstream DO","run":4,"do":9.52},{"date":"2011-09-19T18:30","series":"Downstream DO","run":4,"do":9.59},{"date":"2011-09-20T03:00","series":"Downstream DO","run":4,"do":9.75},{"date":"2011-09-20T09:30","series":"Downstream DO","run":4,"do":9.85},{"date":"2011-09-20T18:00","series":"Downstream DO","run":4,"do":9.62},{"date":"2011-09-21T02:30","series":"Downstream DO","run":4,"do":9.46},{"date":"2011-09-21T08:30","series":"Downstream DO","run":4,"do":9.25},{"date":"2011-09-21T15:00","series":"Downstream DO","run":4,"do":9.1},{"date":"2011-09-21T21:30","series":"Downstream DO","run":4,"do":8.98},{"date":"2011-09-22T06:00","series":"Downstream DO","run":4,"do":8.9},{"date":"2011-09-22T12:00","series":"Downstream DO","run":4,"do":8.98},{"date":"2011-09-22T18:30","series":"Downstream DO","run":4,"do":9.25},{"date":"2011-09-23T03:00","series":"Downstream DO","run":4,"do":9.8},{"date":"2011-09-23T11:30","series":"Downstream DO","run":4,"do":10.2},{"date":"2011-09-23T17:30","series":"Downstream DO","run":4,"do":10.38},{"date":"2011-09-24T00:00","series":"Downstream DO","run":4,"do":10.5},{"date":"2011-09-24T06:30","series":"Downstream DO","run":4,"do":10.52},{"date":"2011-09-24T17:00","series":"Downstream DO","run":4,"do":10.4},{"date":"2011-09-25T03:30","series":"Downstream DO","run":4,"do":10.12},{"date":"2011-09-25T12:00","series":"Downstream DO","run":4,"do":9.85},{"date":"2011-09-25T18:00","series":"Downstream DO","run":4,"do":9.67},{"date":"2011-09-26T02:30","series":"Downstream DO","run":4,"do":9.4},{"date":"2011-09-26T09:00","series":"Downstream DO","run":4,"do":9.27},{"date":"2011-09-26T21:30","series":"Downstream DO","run":4,"do":9.19},{"date":"2011-09-27T08:00","series":"Downstream DO","run":4,"do":9.25},{"date":"2011-09-27T16:30","series":"Downstream DO","run":4,"do":9.36},{"date":"2011-09-28T01:00","series":"Downstream DO","run":4,"do":9.6},{"date":"2011-09-28T09:30","series":"Downstream DO","run":4,"do":9.85},{"date":"2011-09-28T15:30","series":"Downstream DO","run":4,"do":9.88},{"date":"2011-09-29T02:00","series":"Downstream DO","run":4,"do":9.73},{"date":"2011-09-29T12:30","series":"Downstream DO","run":4,"do":9.64},{"date":"2011-09-30T07:30","series":"Downstream DO","run":4,"do":9.6},
      {"date":"2011-09-19T20:30","series":"Field check","run":6,"do":9.72},{"date":"2011-09-20T05:00","series":"Field check","run":6,"do":9.85},{"date":"2011-09-20T11:30","series":"Field check","run":6,"do":9.89},{"date":"2011-09-20T15:30","series":"Field check","run":6,"do":9.82},
      {"date":"2011-09-23T02:30","series":"Field check","run":7,"do":9.76},{"date":"2011-09-23T09:00","series":"Field check","run":7,"do":10.0},{"date":"2011-09-23T13:30","series":"Field check","run":7,"do":10.19},{"date":"2011-09-23T19:30","series":"Field check","run":7,"do":10.4},{"date":"2011-09-24T00:00","series":"Field check","run":7,"do":10.51},{"date":"2011-09-24T10:30","series":"Field check","run":7,"do":10.48},{"date":"2011-09-24T19:00","series":"Field check","run":7,"do":10.3},{"date":"2011-09-25T01:00","series":"Field check","run":7,"do":10.11},{"date":"2011-09-25T07:30","series":"Field check","run":7,"do":9.9},{"date":"2011-09-25T14:00","series":"Field check","run":7,"do":9.63},{"date":"2011-09-25T20:00","series":"Field check","run":7,"do":9.4},{"date":"2011-09-26T00:00","series":"Field check","run":7,"do":9.23}
    ]
  },
  "encoding": {
    "x": {
      "field": "date",
      "type": "temporal",
      "scale": {
        "domain": [
          {"year": 2011, "month": 6, "date": 14, "hours": 18},
          {"year": 2011, "month": 9, "date": 30, "hours": 14}
        ],
        "nice": false
      },
      "axis": {
        "title": "Date (2011)",
        "format": "%-m-%-d",
        "values": [
          {"year":2011,"month":6,"date":15},{"year":2011,"month":6,"date":17},{"year":2011,"month":6,"date":19},{"year":2011,"month":6,"date":21},{"year":2011,"month":6,"date":23},{"year":2011,"month":6,"date":25},{"year":2011,"month":6,"date":27},{"year":2011,"month":6,"date":29},
          {"year":2011,"month":7,"date":1},{"year":2011,"month":7,"date":3},{"year":2011,"month":7,"date":5},{"year":2011,"month":7,"date":7},{"year":2011,"month":7,"date":9},{"year":2011,"month":7,"date":11},{"year":2011,"month":7,"date":13},{"year":2011,"month":7,"date":15},{"year":2011,"month":7,"date":17},{"year":2011,"month":7,"date":19},{"year":2011,"month":7,"date":21},{"year":2011,"month":7,"date":23},{"year":2011,"month":7,"date":25},{"year":2011,"month":7,"date":27},{"year":2011,"month":7,"date":29},{"year":2011,"month":7,"date":31},
          {"year":2011,"month":8,"date":2},{"year":2011,"month":8,"date":4},{"year":2011,"month":8,"date":6},{"year":2011,"month":8,"date":8},{"year":2011,"month":8,"date":10},{"year":2011,"month":8,"date":12},{"year":2011,"month":8,"date":14},{"year":2011,"month":8,"date":16},{"year":2011,"month":8,"date":18},{"year":2011,"month":8,"date":20},{"year":2011,"month":8,"date":22},{"year":2011,"month":8,"date":24},{"year":2011,"month":8,"date":26},{"year":2011,"month":8,"date":28},{"year":2011,"month":8,"date":30},
          {"year":2011,"month":9,"date":1},{"year":2011,"month":9,"date":3},{"year":2011,"month":9,"date":5},{"year":2011,"month":9,"date":7},{"year":2011,"month":9,"date":9},{"year":2011,"month":9,"date":11},{"year":2011,"month":9,"date":13},{"year":2011,"month":9,"date":15},{"year":2011,"month":9,"date":17},{"year":2011,"month":9,"date":19},{"year":2011,"month":9,"date":21},{"year":2011,"month":9,"date":23},{"year":2011,"month":9,"date":25},{"year":2011,"month":9,"date":27},{"year":2011,"month":9,"date":29}
        ],
        "labelAngle": 270,
        "labelPadding": 12,
        "labelFontSize": 15,
        "labelFontWeight": "bold",
        "labelColor": "#3a3a3a",
        "labelOverlap": false,
        "labelFlush": false,
        "ticks": false,
        "domain": false,
        "grid": false,
        "titleFontSize": 18,
        "titleFontWeight": "bold",
        "titleColor": "#333333",
        "titlePadding": 17
      }
    }
  },
  "layer": [
    {
      "encoding": {
        "y": {
          "field": "do",
          "type": "quantitative",
          "scale": {"domain": [0, 12], "nice": false},
          "axis": {
            "orient": "left",
            "title": "Daily Average Dissolved Oxygen (mg/L)",
            "values": [0, 1, 2, 3, 4, 5, 6, 7, 8, 9, 10, 11, 12],
            "domain": false,
            "ticks": false,
            "labelPadding": 14,
            "labelFontSize": 19,
            "labelFontWeight": "bold",
            "labelColor": "#3a3a3a",
            "titleFontSize": 18.5,
            "titleFontWeight": "bold",
            "titleColor": "#333333",
            "titlePadding": -7,
            "grid": true,
            "gridColor": "#dcdcdc",
            "gridWidth": 2,
            "gridOpacity": {"condition": {"test": "datum.value === 12", "value": 1}, "value": 0}
          }
        }
      },
      "layer": [
        {
          "data": {"name": "do"},
          "transform": [{"filter": "datum.run <= 2"}],
          "mark": {"type": "line", "color": "#1f6db3", "strokeWidth": 2.8, "interpolate": "monotone"},
          "encoding": {"detail": [{"field": "series"}, {"field": "run"}]}
        },
        {
          "data": {"name": "do"},
          "transform": [{"filter": "datum.series === 'Downstream DO' && datum.run === 4"}],
          "mark": {"type": "line", "strokeWidth": 5, "opacity": 0.62, "interpolate": "monotone"},
          "encoding": {
            "color": {
              "field": "series",
              "type": "nominal",
              "scale": {"domain": ["Downstream DO", "Upstream DO", "Discharge"], "range": ["#e48aaa", "#2c9a72", "#7d908a"]},
              "legend": {
                "orient": "none",
                "legendX": 688,
                "legendY": 28,
                "direction": "horizontal",
                "title": null,
                "symbolType": "stroke",
                "symbolSize": 170,
                "symbolStrokeWidth": 2,
                "symbolOpacity": 0.75,
                "labelFont": "Open Sans",
                "labelFontSize": 19.5,
                "labelFontWeight": "bold",
                "labelColor": "#333333",
                "labelLimit": 400,
                "labelOffset": 2,
                "columnPadding": 22,
                "padding": 0
              }
            }
          }
        },
        {
          "data": {"name": "do"},
          "transform": [{"filter": "datum.series === 'Upstream DO' && datum.run === 4"}],
          "mark": {"type": "line", "strokeWidth": 2.2, "interpolate": "monotone"},
          "encoding": {"color": {"field": "series", "type": "nominal"}}
        },
        {
          "data": {"name": "do"},
          "transform": [{"filter": "datum.series === 'Upstream DO' && datum.run === 3"}],
          "mark": {"type": "line", "color": "#1b8a4c", "strokeWidth": 3, "interpolate": "monotone"}
        },
        {
          "data": {"name": "do"},
          "transform": [{"filter": "datum.series === 'Downstream DO' && datum.run === 3"}],
          "mark": {"type": "line", "color": "#d8346b", "strokeWidth": 2, "interpolate": "monotone"}
        },
        {
          "data": {"name": "do"},
          "transform": [{"filter": "datum.series === 'Field check'"}],
          "mark": {"type": "line", "color": "#111111", "strokeWidth": 2.5, "strokeDash": [2, 2], "strokeCap": "butt", "interpolate": "monotone"},
          "encoding": {"detail": {"field": "run"}}
        }
      ]
    },
    {
      "encoding": {
        "y": {
          "field": "cfs",
          "type": "quantitative",
          "scale": {"domain": [0, 14000], "nice": false},
          "axis": {
            "orient": "right",
            "title": "Discharge, cfs",
            "values": [0, 2000, 4000, 6000, 8000, 10000, 12000, 14000],
            "format": "d",
            "domain": false,
            "ticks": false,
            "grid": false,
            "labelPadding": 13,
            "labelFontSize": 15.5,
            "labelFontWeight": "bold",
            "labelColor": "#3a3a3a",
            "titleAngle": 270,
            "titleFontSize": 18,
            "titleFontWeight": "bold",
            "titleColor": "#333333",
            "titlePadding": 17
          }
        }
      },
      "layer": [
        {
          "data": {"name": "flow"},
          "transform": [{"filter": "datum.run === 1 && time(datum.date) >= time(datetime(2011, 5, 26, 12)) && time(datum.date) <= time(datetime(2011, 6, 4, 10))"}],
          "mark": {"type": "line", "color": "#4a9be0", "strokeWidth": 9, "opacity": 0.45}
        },
        {
          "data": {"name": "flow"},
          "transform": [{"filter": "datum.run <= 4"}],
          "mark": {"type": "line", "color": "#1f6db3", "strokeWidth": 2.8},
          "encoding": {"detail": {"field": "run"}}
        },
        {
          "data": {"name": "threshold"},
          "mark": {"type": "line", "color": "#1f6db3", "strokeWidth": 3.5, "strokeDash": [9, 7], "strokeCap": "butt"}
        },
        {
          "data": {"name": "flow"},
          "transform": [{"filter": "datum.run === 5"}],
          "mark": {"type": "line", "strokeWidth": 3, "opacity": 0.8},
          "encoding": {"color": {"field": "series", "type": "nominal"}}
        }
      ]
    }
  ],
  "resolve": {"scale": {"y": "independent"}, "axis": {"y": "independent"}}
}
